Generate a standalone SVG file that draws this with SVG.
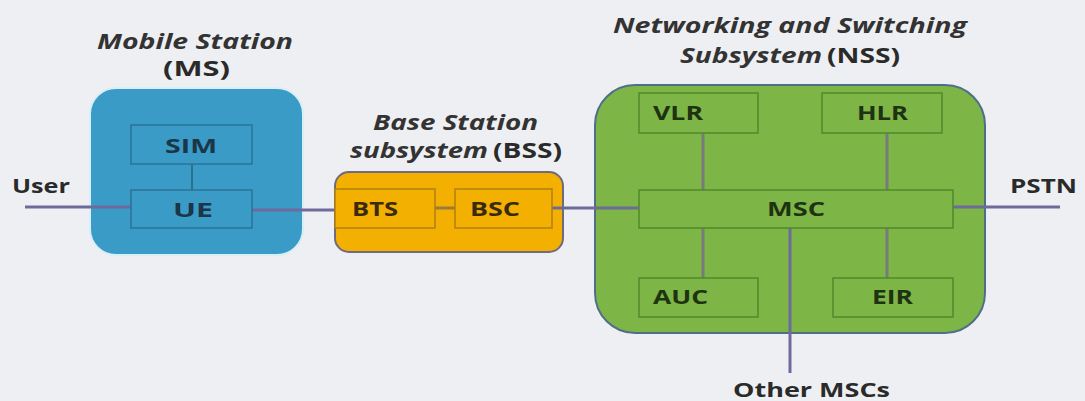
<svg xmlns="http://www.w3.org/2000/svg" width="1085" height="401" viewBox="0 0 1085 401">
<style>
.t{font-family:"Open Sans","Liberation Sans",sans-serif;font-weight:bold;fill:#2a2a2a}
.ti{font-family:"Open Sans","Liberation Sans",sans-serif;font-weight:bold;font-style:italic;fill:#333}
.lbl{font-family:"Open Sans","Liberation Sans",sans-serif;font-weight:bold;font-size:19px}
.ext{stroke:#6e6a9c;stroke-width:3;fill:none}
.int{stroke:#7a7a7a;stroke-width:3;fill:none}
</style>
<rect width="1085" height="401" fill="#eeeff2"/>
<g id="ms">
<rect x="90" y="88" width="213" height="167" rx="26" fill="#3a9bc6" stroke="#d8eef8" stroke-width="2"/>
<text class="ti" x="97" y="49" font-size="22" textLength="196" lengthAdjust="spacingAndGlyphs">Mobile Station</text>
<text class="t" x="163" y="76" font-size="22" textLength="67" lengthAdjust="spacingAndGlyphs">(MS)</text>
</g>
<g id="bss">
<rect x="335" y="172" width="228" height="80" rx="14" fill="#f4b000" stroke="#6f6a80" stroke-width="2"/>
<text class="ti" x="373" y="130" font-size="22" textLength="165" lengthAdjust="spacingAndGlyphs">Base Station</text>
<text class="ti" x="350" y="158" font-size="22" textLength="138" lengthAdjust="spacingAndGlyphs">subsystem</text>
<text class="t" x="493" y="158" font-size="22" textLength="69" lengthAdjust="spacingAndGlyphs">(BSS)</text>
</g>
<g id="nss">
<rect x="595" y="85" width="390" height="248" rx="40" fill="#7db546" stroke="#4f6f88" stroke-width="2"/>
<text class="ti" x="613" y="33" font-size="22" textLength="354" lengthAdjust="spacingAndGlyphs">Networking and Switching</text>
<text class="ti" x="680" y="63" font-size="22" textLength="142" lengthAdjust="spacingAndGlyphs">Subsystem</text>
<text class="t" x="827" y="63" font-size="22" textLength="73" lengthAdjust="spacingAndGlyphs">(NSS)</text>
</g>
<g id="connectors">
<line class="ext" x1="25" y1="207" x2="131" y2="207"/>
<line class="ext" x1="252" y1="210" x2="337" y2="210"/>
<line class="int" x1="192" y1="164" x2="192" y2="190" style="stroke:#2e6f8e;stroke-width:2"/>
<line class="ext" x1="435" y1="208" x2="455" y2="208" style="stroke:#9a7a40"/>
<line class="ext" x1="552" y1="208" x2="639" y2="208"/>
<line class="int" x1="703" y1="133" x2="703" y2="190"/>
<line class="int" x1="887" y1="133" x2="887" y2="190"/>
<line class="int" x1="703" y1="228" x2="703" y2="278"/>
<line class="int" x1="887" y1="228" x2="887" y2="278"/>
<line class="ext" x1="790" y1="228" x2="790" y2="373"/>
<line class="ext" x1="953" y1="207" x2="1060" y2="207"/>
</g>
<g id="sim">
<rect x="131" y="125" width="121" height="39" fill="#3a9bc6" stroke="#2b7397" stroke-width="1.5"/>
<text class="lbl" x="165" y="153" fill="#1c3548" textLength="52" lengthAdjust="spacingAndGlyphs">SIM</text>
</g>
<g id="ue">
<rect x="131" y="190" width="121" height="38" fill="#3a9bc6" stroke="#2b7397" stroke-width="1.5"/>
<text class="lbl" x="173" y="217" fill="#1c3548" textLength="40" lengthAdjust="spacingAndGlyphs">UE</text>
</g>
<g id="user">
<text class="t" x="12" y="193" font-size="20" textLength="58" lengthAdjust="spacingAndGlyphs">User</text>
</g>
<g id="bts">
<rect x="335" y="189" width="100" height="39" fill="#f4b000" stroke="#b07f10" stroke-width="1.5"/>
<text class="lbl" x="352" y="216" fill="#3a2a10" textLength="46" lengthAdjust="spacingAndGlyphs">BTS</text>
</g>
<g id="bsc">
<rect x="455" y="189" width="97" height="39" fill="#f4b000" stroke="#b07f10" stroke-width="1.5"/>
<text class="lbl" x="470" y="216" fill="#3a2a10" textLength="50" lengthAdjust="spacingAndGlyphs">BSC</text>
</g>
<g id="vlr">
<rect x="639" y="93" width="119" height="40" fill="#7db546" stroke="#4f8a2c" stroke-width="1.5"/>
<text class="lbl" x="653" y="120" fill="#1e3312" textLength="50" lengthAdjust="spacingAndGlyphs">VLR</text>
</g>
<g id="hlr">
<rect x="822" y="93" width="120" height="40" fill="#7db546" stroke="#4f8a2c" stroke-width="1.5"/>
<text class="lbl" x="857" y="120" fill="#1e3312" textLength="51" lengthAdjust="spacingAndGlyphs">HLR</text>
</g>
<g id="msc">
<rect x="639" y="190" width="314" height="38" fill="#7db546" stroke="#4f8a2c" stroke-width="1.5"/>
<text class="lbl" x="767" y="216" fill="#1e3312" textLength="58" lengthAdjust="spacingAndGlyphs">MSC</text>
</g>
<g id="auc">
<rect x="639" y="278" width="119" height="39" fill="#7db546" stroke="#4f8a2c" stroke-width="1.5"/>
<text class="lbl" x="653" y="304" fill="#1e3312" textLength="55" lengthAdjust="spacingAndGlyphs">AUC</text>
</g>
<g id="eir">
<rect x="833" y="278" width="120" height="39" fill="#7db546" stroke="#4f8a2c" stroke-width="1.5"/>
<text class="lbl" x="872" y="304" fill="#1e3312" textLength="41" lengthAdjust="spacingAndGlyphs">EIR</text>
</g>
<g id="pstn">
<text class="t" x="1010" y="193" font-size="20" textLength="67" lengthAdjust="spacingAndGlyphs">PSTN</text>
</g>
<g id="other">
<text class="t" x="733" y="397" font-size="20" textLength="157" lengthAdjust="spacingAndGlyphs">Other MSCs</text>
</g>
</svg>
